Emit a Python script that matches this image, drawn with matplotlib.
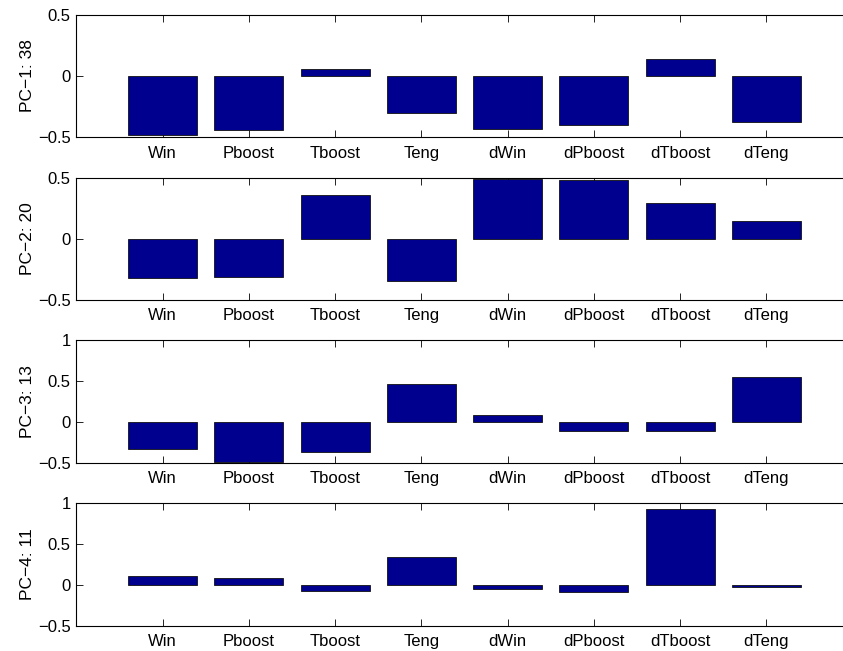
import matplotlib
matplotlib.use('Agg')
import matplotlib.pyplot as plt
import numpy as np

plt.rcParams['font.family'] = ['Liberation Sans', 'DejaVu Sans']

labels = ['Win', 'Pboost', 'Tboost', 'Teng', 'dWin', 'dPboost', 'dTboost', 'dTeng']
pc_names = ['PC\u22121: 38', 'PC\u22122: 20', 'PC\u22123: 13', 'PC\u22124: 11']

pc1 = [-0.483, -0.437, 0.057, -0.300, -0.430, -0.400, 0.136, -0.372]
pc2 = [-0.322, -0.312, 0.358, -0.341, 0.485, 0.477, 0.290, 0.144]
pc3 = [-0.325, -0.488, -0.366, 0.467, 0.081, -0.110, -0.114, 0.545]
pc4 = [0.109, 0.081, -0.073, 0.336, -0.045, -0.085, 0.931, -0.024]
loadings = [pc1, pc2, pc3, pc4]

ylims = [(-0.5, 0.5), (-0.5, 0.5), (-0.5, 1), (-0.5, 1)]
yticks = [[-0.5, 0, 0.5], [-0.5, 0, 0.5], [-0.5, 0, 0.5, 1], [-0.5, 0, 0.5, 1]]

BAR = '#00008F'
W, H = 843, 651

fig = plt.figure(figsize=(W / 100, H / 100), dpi=100)
fig.patch.set_facecolor('white')

x = np.arange(1, len(labels) + 1)
left_px, width_px = 76.4, 776.3
for i, vals in enumerate(loadings):
    top_px = 14.7 + i * 162.8
    bot_px = top_px + 122.6
    ax = fig.add_axes([left_px / W, 1 - bot_px / H, width_px / W, (bot_px - top_px) / H])
    ax.bar(x, vals, width=0.8, color=BAR, edgecolor='#111111', linewidth=0.6, zorder=2)
    ax.set_xlim(0, 9)
    ax.set_ylim(*ylims[i])
    ax.set_xticks(x)
    ax.set_xticklabels(labels)
    ax.set_yticks(yticks[i])
    ax.set_yticklabels([('\u2212' if t < 0 else '') + (f'{abs(t):g}') for t in yticks[i]])
    ax.set_ylabel(pc_names[i], fontsize=12.5, labelpad=2)
    ax.tick_params(direction='in', top=True, right=True, length=5.3, width=0.6,
                   labelsize=12, pad=4)
    ax.tick_params(axis='x', pad=6)
    for s in ax.spines.values():
        s.set_linewidth(0.8)

fig.savefig('out.png', dpi=100, facecolor='white')
